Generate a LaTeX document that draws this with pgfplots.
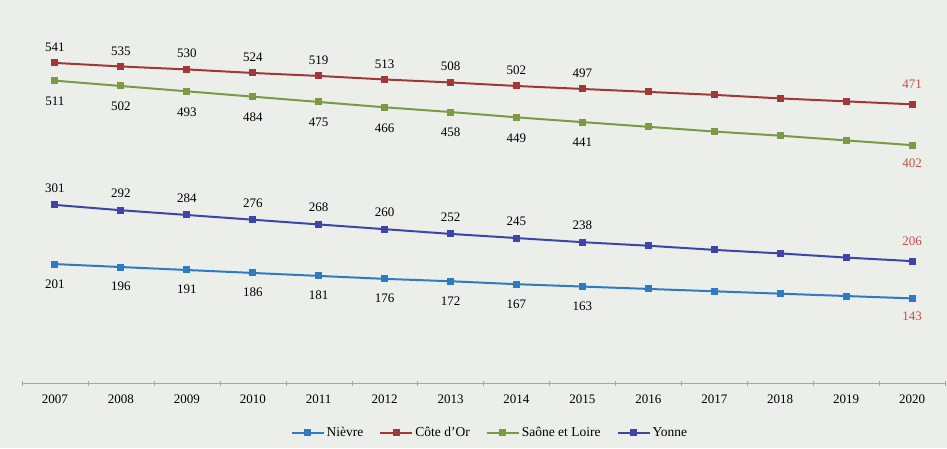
\documentclass[border=0pt]{standalone}
\usepackage{pgfplots}
\pgfplotsset{compat=1.18}
\usepackage{fontspec}
\setmainfont{Liberation Serif}
\definecolor{bg}{RGB}{236,238,234}
\definecolor{cnievre}{RGB}{46,123,196}
\definecolor{ccote}{RGB}{160,56,58}
\definecolor{csaone}{RGB}{122,154,69}
\definecolor{cyonne}{RGB}{63,69,168}
\definecolor{lred}{RGB}{192,80,77}
\begin{document}
\begin{tikzpicture}
\fill[bg] (0pt,0pt) rectangle (947pt,448pt);
\begin{axis}[
  at={(22pt,65pt)}, anchor=south west,
  scale only axis, width=923pt, height=355pt,
  xmin=-0.5, xmax=13.5, ymin=0, ymax=600,
  axis x line=bottom, axis y line=none,
  axis line style={-, gray!70, line width=0.8pt},
  xtick={0,...,13},
  xticklabels={2007,2008,2009,2010,2011,2012,2013,2014,2015,2016,2017,2018,2019,2020},
  major tick length=0pt,
  minor xtick={-0.5,0.5,...,13.5},
  minor tick length=5pt,
  minor tick style={gray!70},
  xticklabel style={font=\fontsize{13}{15}\selectfont, yshift=-8pt},
  /pgf/number format/assume math mode=true,
  clip=false,
  legend columns=4,
  legend style={draw=none, fill=none, at={(axis description cs:0.507,-0.14)}, anchor=center,
    font=\fontsize{13.5}{15}\selectfont, /tikz/every even column/.append style={column sep=14pt}},
  legend image code/.code={\draw[#1, mark repeat=2, mark phase=2] plot coordinates {(0pt,0pt) (16pt,0pt) (32pt,0pt)};},
  every axis plot/.append style={line width=2pt, mark=square*, mark size=2.5pt},
]
% Lines
\addplot[cnievre, mark options={fill=cnievre}] coordinates {(0,201)(1,196)(2,191)(3,186)(4,181)(5,176)(6,172)(7,167)(8,163)(9,159)(10,155)(11,151)(12,147)(13,143)};
\addlegendentry{Nièvre}
\addplot[ccote, mark options={fill=ccote}] coordinates {(0,541)(1,535)(2,530)(3,524)(4,519)(5,513)(6,508)(7,502)(8,497)(9,492)(10,487)(11,481)(12,476)(13,471)};
\addlegendentry{Côte d'Or}
\addplot[csaone, mark options={fill=csaone}] coordinates {(0,511)(1,502)(2,493)(3,484)(4,475)(5,466)(6,458)(7,449)(8,441)(9,433)(10,425)(11,418)(12,410)(13,402)};
\addlegendentry{Saône et Loire}
\addplot[cyonne, mark options={fill=cyonne}] coordinates {(0,301)(1,292)(2,284)(3,276)(4,268)(5,260)(6,252)(7,245)(8,238)(9,232)(10,225)(11,219)(12,212)(13,206)};
\addlegendentry{Yonne}
% Data labels (black)
\addplot[forget plot, draw=none, mark=none, nodes near coords, nodes near coords style={font=\fontsize{13}{15}\selectfont, text=black, yshift=7pt}]
  coordinates {(0,541)(1,535)(2,530)(3,524)(4,519)(5,513)(6,508)(7,502)(8,497)};
\addplot[forget plot, draw=none, mark=none, nodes near coords, nodes near coords align=below, nodes near coords style={font=\fontsize{13}{15}\selectfont, text=black, yshift=-12pt}]
  coordinates {(0,511)(1,502)(2,493)(3,484)(4,475)(5,466)(6,458)(7,449)(8,441)};
\addplot[forget plot, draw=none, mark=none, nodes near coords, nodes near coords style={font=\fontsize{13}{15}\selectfont, text=black, yshift=8pt}]
  coordinates {(0,301)(1,292)(2,284)(3,276)(4,268)(5,260)(6,252)(7,245)(8,238)};
\addplot[forget plot, draw=none, mark=none, nodes near coords, nodes near coords align=below, nodes near coords style={font=\fontsize{13}{15}\selectfont, text=black, yshift=-11pt}]
  coordinates {(0,201)(1,196)(2,191)(3,186)(4,181)(5,176)(6,172)(7,167)(8,163)};
% Data labels (red, 2020)
\addplot[forget plot, draw=none, mark=none, nodes near coords, nodes near coords style={font=\fontsize{13}{15}\selectfont, text=lred, yshift=11pt}]
  coordinates {(13,471)(13,206)};
\addplot[forget plot, draw=none, mark=none, nodes near coords, nodes near coords align=below, nodes near coords style={font=\fontsize{13}{15}\selectfont, text=lred, yshift=-9pt}]
  coordinates {(13,402)(13,143)};
\end{axis}
\end{tikzpicture}
\end{document}
